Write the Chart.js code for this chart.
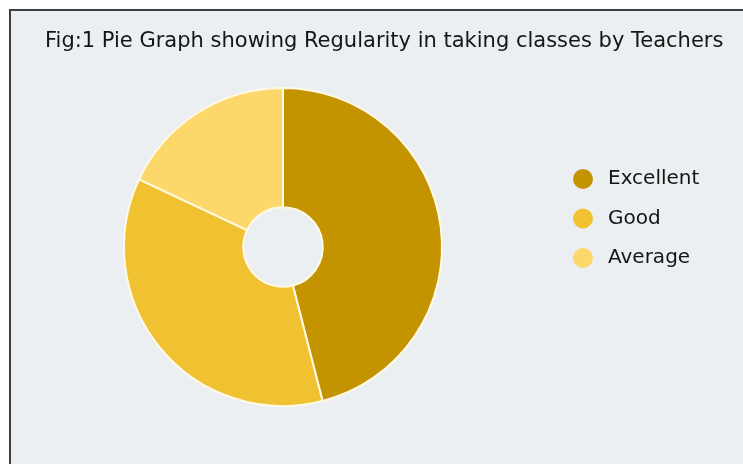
<!DOCTYPE html>
<html>
<head>
<meta charset="utf-8">
<script src="https://cdn.jsdelivr.net/npm/chart.js@4"></script>
<style>
  html, body { margin: 0; padding: 0; background: #ffffff; overflow: hidden; }
  #frame {
    position: absolute; left: 9px; top: 9px; width: 800px; height: 520px;
    border: 2px solid #3f3f3f; background: #eceff1;
  }
  #wrap { position: absolute; left: 0; top: 0; width: 743px; height: 464px; }
</style>
</head>
<body>
<div id="frame"></div>
<div id="wrap"><canvas id="myChart_pie"></canvas></div>
<script>
const title_text = 'Fig:1 Pie Graph showing Regularity in taking classes by Teachers'
const categories = ['Excellent', 'Good', 'Average']
const values = [46, 36, 18]
const colors = ['#c39400', '#f0c232', '#fcd86a']
const font_family = '"DejaVu Sans", "Noto Sans", sans-serif'

// title + legend drawn by hand so they land where the picture has them
const side_bits = {
    id: 'side_bits',
    afterDraw(chart){
        const ctx = chart.ctx
        ctx.save()
        ctx.fillStyle = '#151515'
        ctx.textBaseline = 'middle'
        ctx.textAlign = 'left'
        ctx.font = '21px ' + font_family
        ctx.fillText(chart.options.plugins.side_bits.title, 45, 42, 683)
        const labels = chart.data.labels
        const bg = chart.data.datasets[0].backgroundColor
        labels.forEach((lb, i) => {
            const y = 179 + i * 39.5
            ctx.beginPath()
            ctx.arc(583, y, 10, 0, Math.PI * 2)
            ctx.fillStyle = bg[i]
            ctx.fill()
            ctx.fillStyle = '#151515'
            ctx.font = '20px ' + font_family
            ctx.fillText(lb, 608, y)
        })
        ctx.restore()
    }
}

const gphc = document.getElementById('myChart_pie')
const graphic_pie = new Chart(gphc, {
    type: 'doughnut',
    data: {
        labels: categories,
        datasets: [{
            data: values,
            backgroundColor: colors,
            borderColor: '#fff9e6',
            borderWidth: 2,
        }]
    },
    options: {
        responsive: true,
        maintainAspectRatio: false,
        animation: false,
        events: [],
        cutout: '25%',
        layout: {
            padding: { left: 123, right: 300, top: 87, bottom: 57 }
        },
        plugins: {
            legend: { display: false },
            tooltip: { enabled: false },
            side_bits: { title: title_text },
        }
    },
    plugins: [side_bits]
});
</script>
</body>
</html>
